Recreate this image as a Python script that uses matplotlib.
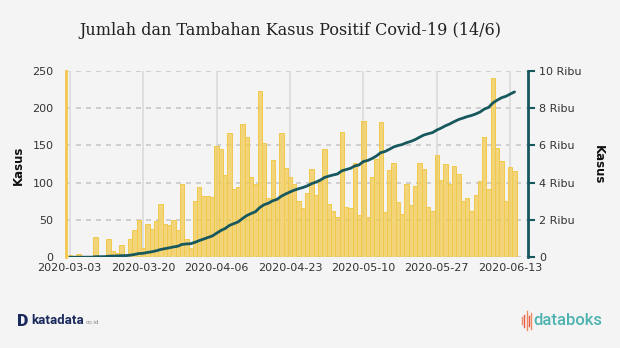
import numpy as np
import pandas as pd
import matplotlib.pyplot as plt
import matplotlib.dates as mdates
from matplotlib.ticker import FixedLocator, FuncFormatter

# Tambahan kasus harian, 3 Maret - 14 Juni 2020
tanggal = pd.date_range("2020-03-03", "2020-06-14", freq="D")
tambahan = [3, 0, 4, 0, 0, 0, 27, 0, 0, 25, 9, 6, 16, 0, 25, 37, 50, 13, 45, 38,
            49, 71, 45, 43, 50, 37, 98, 25, 13, 75, 94, 82, 82, 81, 149, 145, 110, 167, 91, 94,
            179, 161, 107, 98, 223, 153, 79, 131, 78, 167, 120, 107, 98, 76, 66, 86, 118, 83, 105, 145,
            72, 62, 54, 168, 68, 66, 126, 57, 182, 54, 108, 132, 181, 61, 117, 127, 74, 58, 98, 70,
            96, 127, 118, 67, 62, 137, 104, 125, 98, 122, 111, 76, 80, 62, 84, 102, 161, 91, 240, 147,
            129, 76, 121, 115]
# Jumlah kasus (kumulatif)
jumlah = [3, 3, 7, 7, 7, 7, 34, 34, 34, 59, 68, 74, 90, 90, 115, 152, 202, 215, 260, 298,
          347, 418, 463, 506, 556, 593, 691, 716, 729, 804, 898, 980, 1062, 1143, 1292, 1437, 1547, 1714, 1805, 1899,
          2078, 2239, 2346, 2444, 2667, 2820, 2899, 3030, 3108, 3275, 3395, 3502, 3600, 3676, 3742, 3828, 3946, 4029, 4134, 4279,
          4351, 4413, 4467, 4635, 4703, 4769, 4895, 4952, 5134, 5188, 5296, 5428, 5609, 5670, 5787, 5914, 5988, 6046, 6144, 6214,
          6310, 6437, 6555, 6622, 6684, 6821, 6925, 7050, 7148, 7270, 7381, 7457, 7537, 7599, 7683, 7785, 7946, 8037, 8277, 8424,
          8553, 8629, 8750, 8865]
label_tanggal = ["2020-03-03", "2020-03-20", "2020-04-06", "2020-04-23",
                 "2020-05-10", "2020-05-27", "2020-06-13"]
kiri_ticks = [0, 50, 100, 150, 200, 250]
kanan_ticks = [0, 2000, 4000, 6000, 8000, 10000]

BG = "#f4f4f4"
KUNING = "#f2c94c"
TEAL = "#17585f"
TEKS = "#333333"

fig = plt.figure(figsize=(6.2, 3.48), dpi=100, facecolor=BG)
ax = fig.add_axes([0.1065, 0.2606, 0.745, 0.5362], facecolor=BG)
ax2 = ax.twinx()

x0 = mdates.date2num(tanggal[0])
ax.bar(tanggal, tambahan, width=1.0, facecolor=(0.949, 0.788, 0.298, 0.72),
       edgecolor=KUNING, linewidth=0.7, zorder=2)
ax2.plot(tanggal, jumlah, color=TEAL, linewidth=2.0, solid_capstyle="round", zorder=3)

ax.set_xlim(x0 - 0.86, x0 + 106.1)
ax.set_ylim(0, 250)
ax2.set_ylim(0, 10000)

# grid
ax.yaxis.set_major_locator(FixedLocator(kiri_ticks))
ax.grid(axis="y", color="#c8c8c8", linestyle=(0, (3, 3)), linewidth=1.2, zorder=1)
ax.set_axisbelow(True)
xt = [mdates.date2num(pd.Timestamp(d)) for d in label_tanggal]
ax.set_xticks(xt)
ax.set_xticklabels(label_tanggal)
for v in xt:
    ax.axvline(v, color="#dcdcdc", linewidth=1.3, zorder=1)

ax.tick_params(axis="y", length=0, pad=9, labelsize=8, labelcolor=TEKS)
ax.tick_params(axis="x", length=0, pad=4, labelsize=8, labelcolor=TEKS)
ax2.yaxis.set_major_locator(FixedLocator(kanan_ticks))
ax2.yaxis.set_major_formatter(FuncFormatter(lambda v, p: "0" if v == 0 else f"{int(v / 1000)} Ribu"))
ax2.tick_params(axis="y", length=5, width=1.5, color=TEAL, pad=3, labelsize=8, labelcolor=TEKS)

for a in (ax, ax2):
    for s in ("top", "bottom"):
        a.spines[s].set_visible(False)
ax.spines["right"].set_visible(False)
ax2.spines["left"].set_visible(False)
ax.spines["left"].set_color(KUNING)
ax.spines["left"].set_linewidth(2)
ax2.spines["right"].set_color(TEAL)
ax2.spines["right"].set_linewidth(2)
ax.set_zorder(ax2.get_zorder() - 1)
ax2.patch.set_visible(False)

fig.text(0.029, 0.526, "Kasus", rotation=90, ha="center", va="center",
         fontsize=8.5, fontweight="bold", color="#111111")
fig.text(0.965, 0.526, "Kasus", rotation=270, ha="center", va="center",
         fontsize=8.5, fontweight="bold", color="#111111")

fig.text(0.468, 0.913, "Jumlah dan Tambahan Kasus Positif Covid-19 (14/6)",
         ha="center", va="center", fontsize=11.5, family="DejaVu Serif", color="#222222")

# logo bawah
fig.text(0.028, 0.079, "D", fontsize=12.5, fontweight="black", family="Roboto",
         color="#1b2a5c", va="center")
fig.text(0.050, 0.078, "katadata", fontsize=9.5, fontweight="bold", family="Roboto",
         color="#1b2a5c", va="center")
fig.text(0.138, 0.072, "co.id", fontsize=4.5, family="Roboto", color="#8a8a8a", va="center")
for i, (h, c) in enumerate(zip([0.02, 0.035, 0.055, 0.03, 0.045],
                               ["#f08a5d", "#e85a4f", "#f08a5d", "#e85a4f", "#f08a5d"])):
    xi = 0.842 + i * 0.0038
    fig.lines.append(plt.Line2D([xi, xi], [0.078 - h / 2, 0.078 + h / 2],
                                transform=fig.transFigure, color=c, linewidth=1.0))
fig.text(0.861, 0.078, "databoks", fontsize=12, fontweight="medium", family="Roboto",
         color="#4db3b0", va="center")

fig.savefig("out.png", dpi=100, facecolor=BG)
